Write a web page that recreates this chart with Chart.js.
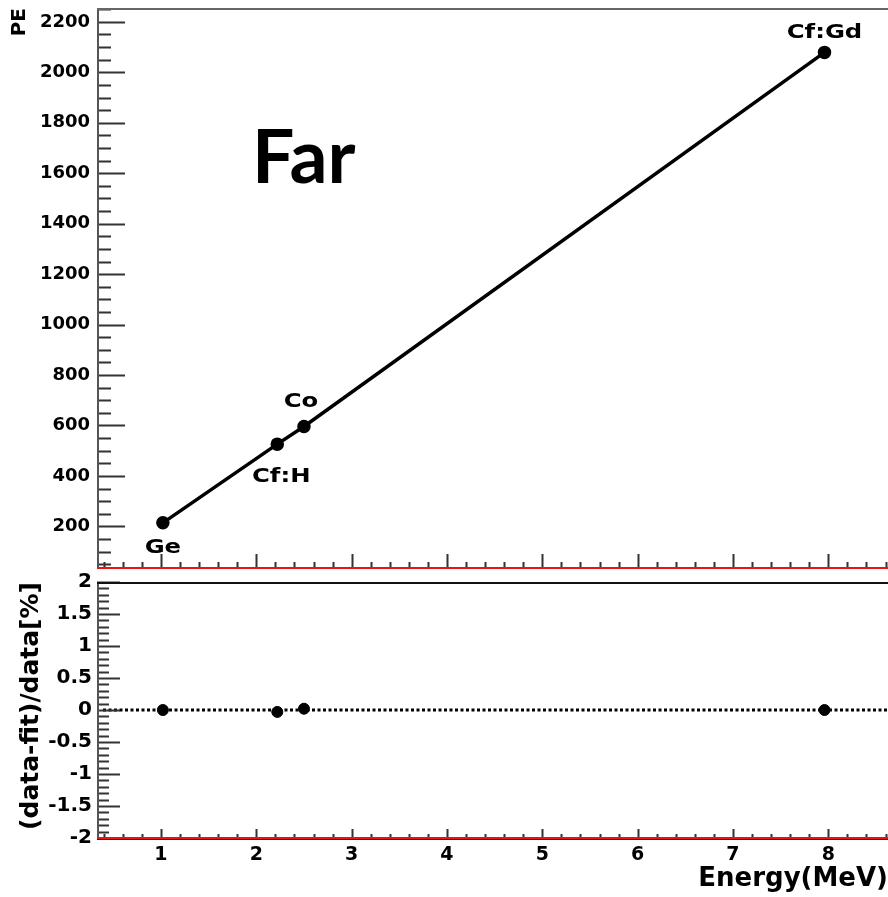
<!DOCTYPE html>
<html>
<head>
<meta charset="utf-8">
<title>Far - PE vs Energy</title>
<script src="https://cdn.jsdelivr.net/npm/chart.js@4.4.1/dist/chart.umd.min.js"></script>
<style>
    html, body { margin: 0; padding: 0; background: #fff; overflow: hidden; }
    #wrap { position: relative; width: 888px; height: 897px; }
    #wrap canvas { position: absolute; left: 0; }
    #peChart { top: 0; }
    #residChart { top: 570px; }
</style>
</head>
<body>
<div id="wrap">
    <canvas id="peChart" width="888" height="575"></canvas>
    <canvas id="residChart" width="888" height="327"></canvas>
</div>
<script>
// calibration points
var sourceNames = ['Ge', 'Cf:H', 'Co', 'Cf:Gd'];
var energies = [1.02, 2.22, 2.50, 7.96];
var peValues = [214, 526, 596, 2079];
var residuals = [0.0, -0.03, 0.02, 0.0];

// axis ticks
var energyTicks = [1, 2, 3, 4, 5, 6, 7, 8];
var peTicks = [200, 400, 600, 800, 1000, 1200, 1400, 1600, 1800, 2000, 2200];
var residualTicks = [-2, -1.5, -1, -0.5, 0, 0.5, 1, 1.5, 2];

// where each source name sits relative to its marker (px)
var labelOffsets = [[0, 30], [4, 38], [-3, -19], [0, -14]];

var energyRange = [0.329, 8.626];
var boldFont = 'DejaVu Sans';

function pickTicks(list) {
    return function (scale) {
        scale.ticks = list.map(function (v) { return {value: v}; });
    };
}

// fixed axis box, and no extra room for the end labels
function fixSize(w, h) {
    return function (s) {
        if (w !== null) s.width = w;
        if (h !== null) s.height = h;
        s.paddingTop = 0;
        s.paddingBottom = 0;
        s.paddingLeft = 0;
        s.paddingRight = 0;
    };
}

// ROOT style frame: inward tick marks, left axis, top/bottom lines
function rootFrame(opts) {
    return {
        id: 'rootFrame',
        afterDraw: function (chart) {
            var ctx = chart.ctx, a = chart.chartArea;
            var xs = chart.scales.x, ys = chart.scales.y;
            var v, p;
            ctx.save();
            ctx.strokeStyle = '#333';
            ctx.lineWidth = 2;
            ctx.beginPath();
            // y ticks
            for (v = Math.ceil(ys.min / opts.yMinor) * opts.yMinor; v <= ys.max + 1e-9; v += opts.yMinor) {
                p = Math.round(ys.getPixelForValue(v)) + 0.5;
                var major = Math.abs(v / opts.yMajor - Math.round(v / opts.yMajor)) < 1e-6;
                ctx.moveTo(a.left, p);
                ctx.lineTo(a.left + (major ? opts.yMajorLen : opts.yMinorLen), p);
            }
            // x ticks
            for (v = Math.ceil(xs.min / 0.2) * 0.2; v <= xs.max; v += 0.2) {
                p = Math.round(xs.getPixelForValue(v)) + 0.5;
                var isInt = Math.abs(v - Math.round(v)) < 1e-6;
                ctx.moveTo(p, a.bottom);
                ctx.lineTo(p, a.bottom - (isInt ? opts.xMajorLen : opts.xMinorLen));
            }
            ctx.stroke();

            // left axis
            ctx.strokeStyle = '#555';
            ctx.beginPath();
            ctx.moveTo(a.left + 1, a.top);
            ctx.lineTo(a.left + 1, a.bottom);
            ctx.stroke();

            // top line
            ctx.strokeStyle = opts.topColor;
            ctx.beginPath();
            ctx.moveTo(a.left, a.top + 1);
            ctx.lineTo(a.right, a.top + 1);
            ctx.stroke();

            // bottom line
            if (opts.bottomDark) {
                ctx.strokeStyle = '#222';
                ctx.beginPath();
                ctx.moveTo(a.left, a.bottom + 1);
                ctx.lineTo(a.right, a.bottom + 1);
                ctx.stroke();
            }
            ctx.strokeStyle = '#f01010';
            ctx.beginPath();
            ctx.moveTo(a.left, a.bottom);
            ctx.lineTo(a.right, a.bottom);
            ctx.stroke();
            ctx.restore();
        }
    };
}

var sourceLabels = {
    id: 'sourceLabels',
    afterDatasetsDraw: function (chart) {
        var ctx = chart.ctx;
        var pts = chart.getDatasetMeta(0).data;
        ctx.save();
        ctx.fillStyle = '#000';
        ctx.font = 'bold 19px "DejaVu Sans", sans-serif';
        ctx.textAlign = 'center';
        ctx.textBaseline = 'alphabetic';
        pts.forEach(function (pt, i) {
            ctx.save();
            ctx.translate(pt.x + labelOffsets[i][0], pt.y + labelOffsets[i][1]);
            ctx.scale(1.28, 1);
            ctx.fillText(sourceNames[i], 0, 0);
            ctx.restore();
        });
        // detector name
        ctx.font = 'bold 75px Lato, "Open Sans", sans-serif';
        ctx.textAlign = 'left';
        ctx.fillText('Far', 252, 183);
        ctx.restore();
    }
};

var zeroLine = {
    id: 'zeroLine',
    beforeDatasetsDraw: function (chart) {
        var ctx = chart.ctx, a = chart.chartArea;
        var y = chart.scales.y.getPixelForValue(0);
        ctx.save();
        ctx.strokeStyle = '#000';
        ctx.lineWidth = 3;
        ctx.setLineDash([3, 2.5]);
        ctx.beginPath();
        ctx.moveTo(a.left + 6, y);
        ctx.lineTo(a.right, y);
        ctx.stroke();
        ctx.restore();
    }
};

new Chart(document.getElementById('peChart'), {
    type: 'scatter',
    data: {
        datasets: [{
            data: energies.map(function (e, i) { return {x: e, y: peValues[i]}; }),
            showLine: true,
            borderColor: '#000',
            backgroundColor: '#000',
            borderWidth: 3.5,
            pointRadius: 5,
            pointHoverRadius: 5
        }]
    },
    options: {
        responsive: false,
        animation: false,
        events: [],
        layout: {autoPadding: false, padding: {top: 8, right: 0, bottom: 7, left: 0}},
        plugins: {legend: {display: false}, tooltip: {enabled: false}},
        scales: {
            x: {type: 'linear', min: energyRange[0], max: energyRange[1], display: false},
            y: {
                type: 'linear',
                min: 35,
                max: 2255,
                afterFit: fixSize(97, null),
                afterBuildTicks: pickTicks(peTicks),
                grid: {display: false, drawTicks: false},
                border: {display: false},
                ticks: {
                    autoSkip: false,
                    color: '#000',
                    padding: 7,
                    font: {family: boldFont, weight: 'bold', size: 18},
                    callback: function (v) { return String(v); }
                },
                title: {
                    display: true,
                    text: 'PE',
                    align: 'end',
                    color: '#000',
                    padding: {top: 8, bottom: 0},
                    font: {family: boldFont, weight: 'bold', size: 20}
                }
            }
        }
    },
    plugins: [rootFrame({yMinor: 50, yMajor: 200, yMajorLen: 28, yMinorLen: 14,
        xMajorLen: 14, xMinorLen: 6, topColor: '#666', bottomDark: false}), sourceLabels]
});

new Chart(document.getElementById('residChart'), {
    type: 'scatter',
    data: {
        datasets: [{
            data: energies.map(function (e, i) { return {x: e, y: residuals[i]}; }),
            borderColor: '#000',
            backgroundColor: '#000',
            pointRadius: 5.5,
            pointHoverRadius: 5.5
        }]
    },
    options: {
        responsive: false,
        animation: false,
        events: [],
        layout: {autoPadding: false, padding: {top: 12, right: 0, bottom: 0, left: 0}},
        plugins: {legend: {display: false}, tooltip: {enabled: false}},
        scales: {
            x: {
                type: 'linear',
                min: energyRange[0],
                max: energyRange[1],
                afterFit: fixSize(null, 59),
                afterBuildTicks: pickTicks(energyTicks),
                grid: {display: false, drawTicks: false},
                border: {display: false},
                ticks: {
                    autoSkip: false,
                    maxRotation: 0,
                    color: '#000',
                    padding: 6,
                    font: {family: boldFont, weight: 'bold', size: 19}
                },
                title: {
                    display: true,
                    text: 'Energy(MeV)',
                    align: 'end',
                    color: '#000',
                    padding: {top: 0, bottom: 2},
                    font: {family: boldFont, weight: 'bold', size: 26}
                }
            },
            y: {
                type: 'linear',
                min: -2,
                max: 2,
                afterFit: fixSize(97, null),
                afterBuildTicks: pickTicks(residualTicks),
                grid: {display: false, drawTicks: false},
                border: {display: false},
                ticks: {
                    autoSkip: false,
                    color: '#000',
                    padding: 5,
                    font: {family: boldFont, weight: 'bold', size: 20},
                    callback: function (v) { return String(v); }
                },
                title: {
                    display: true,
                    text: '(data-fit)/data[%]',
                    align: 'end',
                    color: '#000',
                    padding: {top: 16, bottom: 0},
                    font: {family: boldFont, weight: 'bold', size: 25}
                }
            }
        }
    },
    plugins: [rootFrame({yMinor: 0.1, yMajor: 0.5, yMajorLen: 23, yMinorLen: 12,
        xMajorLen: 9, xMinorLen: 4, topColor: '#111', bottomDark: true}), zeroLine]
});
</script>
</body>
</html>
